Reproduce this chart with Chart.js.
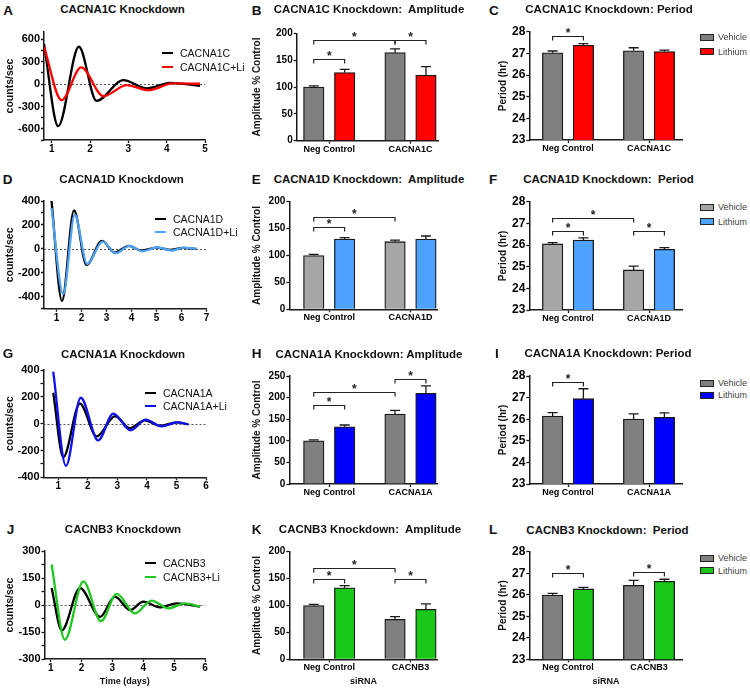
<!DOCTYPE html>
<html>
<head>
<meta charset="utf-8">
<title>Calcium channel knockdown and lithium</title>
<script src="https://cdn.jsdelivr.net/npm/chart.js@4.4.1/dist/chart.umd.min.js"></script>
<style>
  body { margin: 0; background: #fff; font-family: "Liberation Sans", Arial, sans-serif; }
  #fig { position: relative; width: 750px; height: 688px; overflow: hidden; background: #fff; }
  #fig canvas { position: absolute; }
  #fig div { position: absolute; white-space: pre; line-height: 1; color: #111; }
  .letter { font-size: 13.5px; font-weight: bold; transform: translateY(-50%); }
  .title { font-size: 11.5px; font-weight: bold; transform: translate(-50%, -50%); }
  .lkey { font-size: 10.5px; color: #222; transform: translateY(-50%); }
  .bkey { font-size: 9px; color: #444 !important; transform: translateY(-50%); }
  .swatch { width: 12px; height: 5px; border: 1px solid #222; }
</style>
</head>
<body>
<div id="fig"></div>
<script>
// ---- rhythm traces (days, detrended counts/sec), read at peaks and troughs ----
var cacna1cDays = [0.8, 1.17, 1.71, 2.17, 2.87, 3.48, 4.09, 4.87];
var cacna1cCounts = [540, -565, 502, -224, 54, -58, 18, -22];
var cacna1cLiDays = [0.8, 1.26, 1.77, 2.35, 2.96, 3.52, 4.17, 4.87];
var cacna1cLiCounts = [500, -215, 225, -161, -12, -81, 9, 5];

var cacna1dDays = [0.8, 1.22, 1.7, 2.2, 2.82, 3.33, 3.89, 4.39, 5.0, 5.53, 6.07, 6.6];
var cacna1dCounts = [400, -435, 321, -134, 67, -31, 25, -14, 11, -8, 8, 0];
var cacna1dLiDays = [0.8, 1.27, 1.73, 2.23, 2.84, 3.37, 3.92, 4.45, 5.03, 5.6, 6.1, 6.6];
var cacna1dLiCounts = [340, -377, 285, -126, 61, -36, 25, -20, 14, -14, 11, 0];

var cacna1aDays = [0.83, 1.17, 1.73, 2.3, 2.92, 3.43, 3.93, 4.44, 5.0, 5.4];
var cacna1aCounts = [230, -250, 150, -95, 55, -33, 25, -15, 10, -5];
var cacna1aLiDays = [0.83, 1.26, 1.76, 2.35, 2.86, 3.45, 3.96, 4.5, 5.03, 5.4];
var cacna1aLiCounts = [388, -315, 193, -125, 75, -50, 30, -20, 10, -5];

var cacnb3Days = [1.03, 1.36, 1.95, 2.6, 3.08, 3.57, 4.0, 4.54, 5.08, 5.84];
var cacnb3Counts = [94, -141, 94, -66, 47, -28, 19, -13, 9, -9];
var cacnb3LiDays = [1.03, 1.46, 2.06, 2.63, 3.14, 3.73, 4.27, 4.81, 5.35, 5.84];
var cacnb3LiCounts = [225, -193, 131, -90, 62, -47, 24, -19, 9, -9];

// ---- bar summaries ----
var treatments = ["Vehicle", "Lithium"];
var groupsA1C = ["Neg Control", "CACNA1C"];
var groupsA1D = ["Neg Control", "CACNA1D"];
var groupsA1A = ["Neg Control", "CACNA1A"];
var groupsB3 = ["Neg Control", "CACNB3"];

var ampA1C = [100, 164], ampA1CErr = [2, 7];
var ampA1CLi = [127, 122], ampA1CLiErr = [6, 16];
var perA1C = [27.03, 27.12], perA1CErr = [0.08, 0.14];
var perA1CLi = [27.37, 27.08], perA1CLiErr = [0.08, 0.07];

var ampA1D = [100, 125.7], ampA1DErr = [2, 3];
var ampA1DLi = [130.7, 130.7], ampA1DLiErr = [2.5, 5.5];
var perA1D = [26.05, 24.85], perA1DErr = [0.06, 0.18];
var perA1DLi = [26.23, 25.8], perA1DLiErr = [0.1, 0.08];

var ampA1A = [100, 162], ampA1AErr = [2, 8.5];
var ampA1ALi = [132.6, 210], ampA1ALiErr = [4, 17];
var perA1A = [26.15, 26.01], perA1AErr = [0.15, 0.24];
var perA1ALi = [26.95, 26.09], perA1ALiErr = [0.46, 0.2];

var ampB3 = [100, 74.3], ampB3Err = [2, 5];
var ampB3Li = [133, 92.9], ampB3LiErr = [4, 10];
var perB3 = [25.99, 26.44], perB3Err = [0.07, 0.23];
var perB3Li = [26.27, 26.62], perB3LiErr = [0.07, 0.1];

// significance brackets: [series, group, series, group, height]
var ampA1CSig = [[0, 0, 1, 0, 152], [0, 0, 0, 1, 188], [0, 1, 1, 1, 188]];
var perA1CSig = [[0, 0, 1, 0, 27.8]];
var ampA1DSig = [[0, 0, 1, 0, 153.6], [0, 0, 0, 1, 172]];
var perA1DSig = [[0, 0, 1, 0, 26.65], [0, 0, 0, 1, 27.26], [0, 1, 1, 1, 26.65]];
var ampA1ASig = [[0, 0, 1, 0, 183], [0, 0, 0, 1, 213.7], [0, 1, 1, 1, 242]];
var perA1ASig = [[0, 0, 1, 0, 27.74]];
var ampB3Sig = [[0, 0, 1, 0, 149.3], [0, 0, 0, 1, 169], [0, 1, 1, 1, 149]];
var perB3Sig = [[0, 0, 1, 0, 26.99], [0, 1, 1, 1, 27.04]];

// ---- setup ----
const FONT = '"Liberation Sans", Arial, sans-serif';
const INK = "#1a1a1a";
Chart.defaults.font.family = FONT;
Chart.defaults.color = "#000";
Chart.defaults.animation = false;
Chart.defaults.responsive = false;
Chart.defaults.events = [];
Chart.defaults.plugins.legend.display = false;
Chart.defaults.plugins.tooltip.enabled = false;

const zeroLine = {
  id: "zeroLine",
  beforeDatasetsDraw(chart, args, opts) {
    if (!opts.show) return;
    const {ctx, chartArea: a} = chart;
    const py = Math.round(chart.scales.y.getPixelForValue(0)) + 0.5;
    ctx.save();
    ctx.strokeStyle = "#555";
    ctx.lineWidth = 1;
    ctx.setLineDash([2, 2]);
    ctx.beginPath();
    ctx.moveTo(a.left, py);
    ctx.lineTo(a.right, py);
    ctx.stroke();
    ctx.restore();
  }
};

const errorBars = {
  id: "errorBars",
  afterDatasetsDraw(chart) {
    const ctx = chart.ctx, y = chart.scales.y;
    chart.data.datasets.forEach((ds, k) => {
      if (!ds.errors) return;
      chart.getDatasetMeta(k).data.forEach((bar, i) => {
        const top = y.getPixelForValue(ds.data[i].y + ds.errors[i]);
        ctx.save();
        ctx.strokeStyle = INK;
        ctx.lineWidth = 1.3;
        ctx.beginPath();
        ctx.moveTo(bar.x, bar.y);
        ctx.lineTo(bar.x, top);
        ctx.moveTo(bar.x - 5, top);
        ctx.lineTo(bar.x + 5, top);
        ctx.stroke();
        ctx.restore();
      });
    });
  }
};

const brackets = {
  id: "brackets",
  afterDatasetsDraw(chart, args, opts) {
    if (!opts.marks) return;
    const ctx = chart.ctx, y = chart.scales.y;
    opts.marks.forEach(m => {
      const x1 = chart.getDatasetMeta(m[0]).data[m[1]].x;
      const x2 = chart.getDatasetMeta(m[2]).data[m[3]].x;
      const py = Math.round(y.getPixelForValue(m[4])) + 0.5;
      ctx.save();
      ctx.strokeStyle = "#222";
      ctx.lineWidth = 1.2;
      ctx.beginPath();
      ctx.moveTo(x1, py + 4);
      ctx.lineTo(x1, py);
      ctx.lineTo(x2, py);
      ctx.lineTo(x2, py + 4);
      ctx.stroke();
      ctx.fillStyle = "#222";
      ctx.font = "bold 12px " + FONT;
      ctx.textAlign = "center";
      ctx.textBaseline = "alphabetic";
      ctx.fillText("*", (x1 + x2) / 2, py + 0.5);
      ctx.restore();
    });
  }
};

Chart.register(zeroLine, errorBars, brackets);

const fig = document.getElementById("fig");

function addText(cls, text, x, y) {
  const d = document.createElement("div");
  d.className = cls;
  d.textContent = text;
  d.style.left = x + "px";
  d.style.top = y + "px";
  fig.appendChild(d);
  return d;
}

// canvas placed on the page, plot = [left, top, right, bottom] of the axes box
function frame(g) {
  const c = document.createElement("canvas");
  c.width = g.width;
  c.height = g.height;
  c.style.left = g.left + "px";
  c.style.top = g.top + "px";
  fig.appendChild(c);
  const [L, T, R, B] = g.plot;
  return {
    canvas: c,
    padding: {left: 0, top: T - g.top, right: g.left + g.width - R, bottom: 0},
    yWidth: L - g.left,
    xHeight: g.top + g.height - B
  };
}

function axis(fontSize, tickPad) {
  return {
    grid: {drawOnChartArea: false, offset: false, tickLength: 3, color: INK, tickWidth: 1.3},
    border: {color: INK, width: 1.5},
    ticks: {font: {size: fontSize, weight: "bold"}, color: "#000", autoSkip: false, maxRotation: 0, padding: tickPad}
  };
}

function axisTitle(text, size, pad) {
  if (!text) return {display: false};
  return {display: true, text: text, color: "#111", font: {size: size, weight: "bold"}, padding: pad};
}

function lineChart(g, xr, yr, yTitle, xTitle, series) {
  const f = frame(g);
  const xa = axis(10, 0), ya = axis(11, 1);
  new Chart(f.canvas, {
    type: "line",
    data: {
      datasets: series.map((s, k) => ({
        label: s.label,
        data: s.days.map((d, i) => ({x: d, y: s.counts[i]})),
        borderColor: s.color,
        borderWidth: 2.3,
        pointRadius: 0,
        cubicInterpolationMode: "monotone",
        order: k === 0 ? 1 : 0
      }))
    },
    options: {
      layout: {padding: f.padding},
      plugins: {zeroLine: {show: true}},
      scales: {
        x: Object.assign(xa, {
          type: "linear", min: xr[0], max: xr[1], offset: false,
          afterFit: s => { s.height = f.xHeight; },
          ticks: Object.assign(xa.ticks, {stepSize: 1, includeBounds: false}),
          title: axisTitle(xTitle, 9, {top: 0, bottom: 1})
        }),
        y: Object.assign(ya, {
          type: "linear", min: yr[0], max: yr[1],
          afterFit: s => { s.width = f.yWidth; },
          ticks: Object.assign(ya.ticks, {
            stepSize: yr[2], includeBounds: false,
            callback: v => (v % yr[3] === 0 ? String(v) : "")
          }),
          title: axisTitle(yTitle, 10.5, {top: 3.7, bottom: 0})
        })
      }
    }
  });
}

function barChart(g, xr, yr, yTitle, titlePad, xTitle, cats, series, marks) {
  const f = frame(g);
  const xa = axis(9, 0), ya = axis(yr[3], 1);
  new Chart(f.canvas, {
    type: "bar",
    data: {
      datasets: series.map((s, k) => ({
        label: s.label,
        data: s.values.map((v, i) => ({x: i + (k === 0 ? -0.19 : 0.19), y: v})),
        errors: s.errors,
        backgroundColor: s.color,
        borderColor: INK,
        borderWidth: 1.3,
        barThickness: 20.5,
        grouped: false
      }))
    },
    options: {
      layout: {padding: f.padding},
      plugins: {brackets: {marks: marks}},
      scales: {
        x: Object.assign(xa, {
          type: "linear", min: xr[0], max: xr[1], offset: false,
          afterFit: s => { s.height = f.xHeight; },
          afterBuildTicks: s => { s.ticks = cats.map((c, i) => ({value: i})); },
          ticks: Object.assign(xa.ticks, {callback: v => cats[v]}),
          title: axisTitle(xTitle, 9, {top: 0, bottom: 1})
        }),
        y: Object.assign(ya, {
          type: "linear", min: yr[0], max: yr[1], beginAtZero: false,
          afterFit: s => { s.width = f.yWidth; },
          ticks: Object.assign(ya.ticks, {stepSize: yr[2], includeBounds: false}),
          title: axisTitle(yTitle, 10, {top: titlePad, bottom: 0})
        })
      }
    }
  });
}

function lineKey(x, y, dy, series) {
  series.forEach((s, k) => {
    const m = document.createElement("div");
    m.style.cssText = "left:" + x + "px;top:" + (y + k * dy - 1) + "px;width:11px;height:2px;background:" + s.color;
    fig.appendChild(m);
    addText("lkey", s.label, x + 18, y + k * dy);
  });
}

function barKey(x, y, dy, series) {
  series.forEach((s, k) => {
    const sw = document.createElement("div");
    sw.className = "swatch";
    sw.style.left = x + "px";
    sw.style.top = (y + k * dy - 3.5) + "px";
    sw.style.background = s.color;
    fig.appendChild(sw);
    addText("bkey", s.label, x + 18, y + k * dy);
  });
}

function pair(colors, a, ae, b, be) {
  return [
    {label: treatments[0], color: colors[0], values: a, errors: ae},
    {label: treatments[1], color: colors[1], values: b, errors: be}
  ];
}

const AMP = "Amplitude % Control", PER = "Period (hr)", CPS = "counts/sec";
const ampX = [-0.491, 1.335], perX = [-0.478, 1.416];

// ---- row 1: CACNA1C ----
var s1 = [
  {label: "CACNA1C", color: "#000000", days: cacna1cDays, counts: cacna1cCounts},
  {label: "CACNA1C+Li", color: "#ff0000", days: cacna1cLiDays, counts: cacna1cLiCounts}
];
lineChart({left: 0, top: 22, width: 215, height: 138, plot: [44, 32, 205, 140]},
  [0.8, 5], [-750, 700, 150, 300], CPS, null, s1);
lineKey(162, 53, 14, s1);
var c1 = ["#808080", "#ff0000"];
barChart({left: 250, top: 22, width: 195, height: 138, plot: [296.7, 33.3, 438, 140.7]},
  [-0.4, 1.338], [0, 200, 50, 10], AMP, 1.5, null, groupsA1C, pair(c1, ampA1C, ampA1CErr, ampA1CLi, ampA1CLiErr), ampA1CSig);
barChart({left: 497, top: 22, width: 190, height: 138, plot: [529.3, 31.7, 682.7, 140]},
  perX, [23, 28, 1, 12], PER, 0.7, null, groupsA1C, pair(c1, perA1C, perA1CErr, perA1CLi, perA1CLiErr), perA1CSig);
barKey(700, 37.3, 14.4, pair(c1));

// ---- row 2: CACNA1D ----
var s2 = [
  {label: "CACNA1D", color: "#000000", days: cacna1dDays, counts: cacna1dCounts},
  {label: "CACNA1D+Li", color: "#4da3f5", days: cacna1dLiDays, counts: cacna1dLiCounts}
];
lineChart({left: 0, top: 191, width: 215, height: 138, plot: [44, 201, 206.5, 308.8]},
  [0.5, 7], [-500, 400, 100, 200], CPS, null, s2);
lineKey(155, 219, 13, s2);
var c2 = ["#a6a6a6", "#4da3ff"];
barChart({left: 250, top: 191, width: 195, height: 138, plot: [289.3, 201.7, 437.7, 309.3]},
  ampX, [0, 200, 50, 10], AMP, 1.5, null, groupsA1D, pair(c2, ampA1D, ampA1DErr, ampA1DLi, ampA1DLiErr), ampA1DSig);
barChart({left: 497, top: 191, width: 190, height: 138, plot: [529.3, 201.7, 682.7, 310]},
  perX, [23, 28, 1, 12], PER, 0.7, null, groupsA1D, pair(c2, perA1D, perA1DErr, perA1DLi, perA1DLiErr), perA1DSig);
barKey(700, 207.3, 14.4, pair(c2));

// ---- row 3: CACNA1A ----
var s3 = [
  {label: "CACNA1A", color: "#000000", days: cacna1aDays, counts: cacna1aCounts},
  {label: "CACNA1A+Li", color: "#1010f0", days: cacna1aLiDays, counts: cacna1aLiCounts}
];
lineChart({left: 0, top: 360, width: 215, height: 138, plot: [43.5, 370, 206, 477.3]},
  [0.5, 6], [-400, 400, 100, 200], CPS, null, s3);
lineKey(145, 392.7, 13.3, s3);
var c3 = ["#808080", "#0000ff"];
barChart({left: 250, top: 366, width: 195, height: 138, plot: [289.3, 376, 437.7, 484]},
  ampX, [0, 250, 50, 10], AMP, 1.5, null, groupsA1A, pair(c3, ampA1A, ampA1AErr, ampA1ALi, ampA1ALiErr), ampA1ASig);
barChart({left: 497, top: 366, width: 190, height: 138, plot: [529.3, 376, 682.7, 484]},
  perX, [23, 28, 1, 12], PER, 0.7, null, groupsA1A, pair(c3, perA1A, perA1AErr, perA1ALi, perA1ALiErr), perA1ASig);
barKey(700, 383.3, 12, pair(c3));

// ---- row 4: CACNB3 ----
var s4 = [
  {label: "CACNB3", color: "#000000", days: cacnb3Days, counts: cacnb3Counts},
  {label: "CACNB3+Li", color: "#1ec81e", days: cacnb3LiDays, counts: cacnb3LiCounts}
];
lineChart({left: 0, top: 541, width: 215, height: 147, plot: [44.5, 551, 205, 659]},
  [0.8, 6], [-300, 300, 75, 150], CPS, "Time (days)", s4);
lineKey(145, 563.3, 13.4, s4);
var c4 = ["#808080", "#19c819"];
barChart({left: 250, top: 541, width: 195, height: 147, plot: [289.3, 551.7, 437.7, 659.3]},
  ampX, [0, 200, 50, 10], AMP, 1.5, "siRNA", groupsB3, pair(c4, ampB3, ampB3Err, ampB3Li, ampB3LiErr), ampB3Sig);
barChart({left: 497, top: 541, width: 190, height: 147, plot: [529.3, 551.7, 682.7, 659.3]},
  perX, [23, 28, 1, 12], PER, 0.7, "siRNA", groupsB3, pair(c4, perB3, perB3Err, perB3Li, perB3LiErr), perB3Sig);
barKey(700, 558.3, 12.4, pair(c4));

// ---- panel letters and titles ----
[["A", 3.3, 10.5], ["B", 251.7, 10.5], ["C", 489, 10.5],
 ["D", 2.7, 180], ["E", 251.7, 180], ["F", 489, 180],
 ["G", 2.7, 353.5], ["H", 251.7, 353.5], ["I", 495, 353.5],
 ["J", 6.7, 530], ["K", 251.7, 529.5], ["L", 489, 529.5]].forEach(l => addText("letter", l[0], l[1], l[2]));

[["CACNA1C Knockdown", 122.5, 10], ["CACNA1C Knockdown:  Amplitude", 369, 10], ["CACNA1C Knockdown: Period", 609, 10],
 ["CACNA1D Knockdown", 121.5, 180], ["CACNA1D Knockdown:  Amplitude", 369, 180], ["CACNA1D Knockdown:  Period", 608.5, 180],
 ["CACNA1A Knockdown", 123, 355], ["CACNA1A Knockdown: Amplitude", 369, 355], ["CACNA1A Knockdown: Period", 608, 354],
 ["CACNB3 Knockdown", 123, 530], ["CACNB3 Knockdown:  Amplitude", 370, 530], ["CACNB3 Knockdown:  Period", 607.5, 530.7]]
  .forEach(t => addText("title", t[0], t[1], t[2]));
</script>
</body>
</html>
